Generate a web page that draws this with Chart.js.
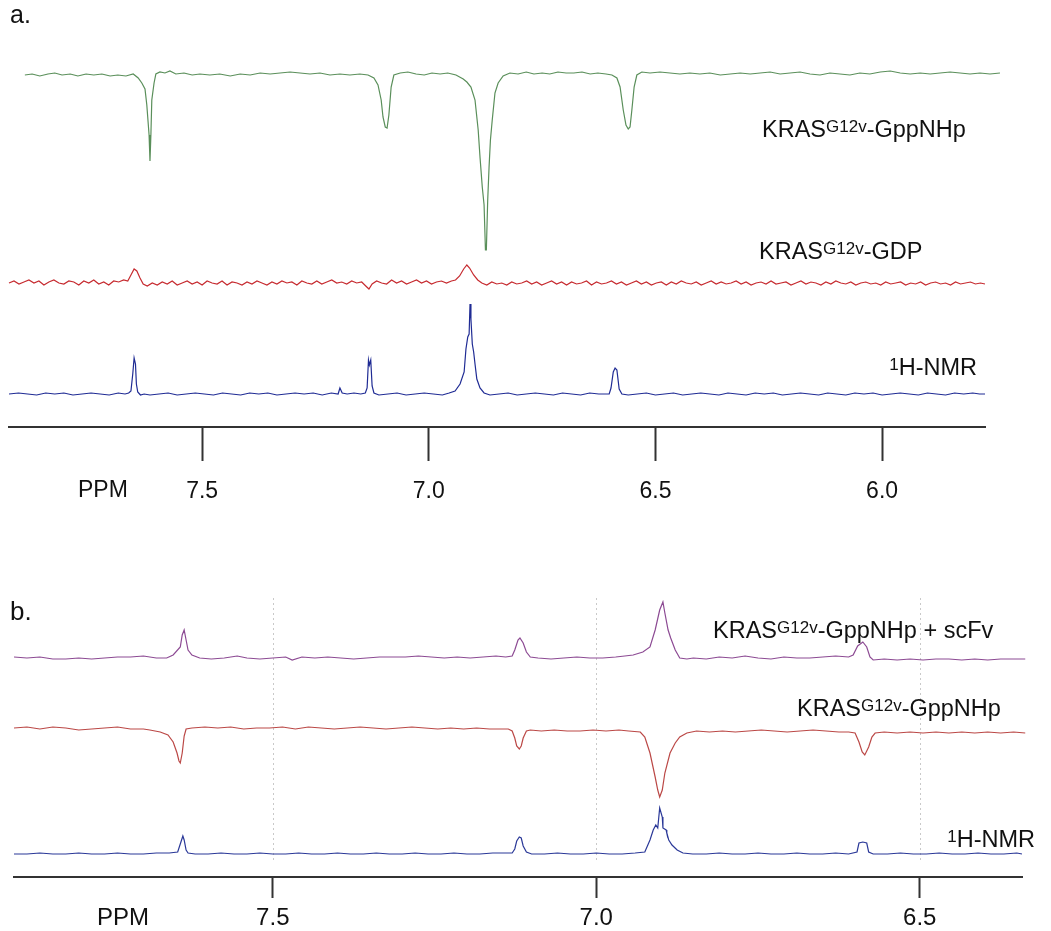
<!DOCTYPE html>
<html>
<head>
<meta charset="utf-8">
<script src="https://cdn.jsdelivr.net/npm/chart.js@4.4.1/dist/chart.umd.min.js"></script>
<style>
  body { margin: 0; background: #fff; }
  #wrap { position: relative; width: 1051px; height: 931px; }
  canvas { position: absolute; left: 0; }
</style>
</head>
<body>
<div id="wrap">
  <canvas id="chartA" width="1051" height="530" style="top:0"></canvas>
  <canvas id="chartB" width="1051" height="371" style="top:560px"></canvas>
</div>
<script>
// ---- panel a: [ppm, intensity] ----
const gppnhpA = [[7.891,0],[7.875,1],[7.858,-1],[7.840,1],[7.825,2],[7.809,0],[7.791,1],[7.774,-1],[7.756,1],[7.739,0],[7.721,1],[7.703,-1],[7.686,0],[7.668,-1],[7.652,1],[7.641,-3],[7.633,-8],[7.626,-14],[7.622,-30],[7.617,-60],[7.615,-86],[7.613,-60],[7.611,-25],[7.606,-8],[7.602,1],[7.593,3],[7.582,2],[7.571,4],[7.558,1],[7.540,2],[7.522,0],[7.505,1],[7.483,0],[7.461,1],[7.438,-1],[7.416,1],[7.394,0],[7.372,2],[7.350,1],[7.328,2],[7.306,3],[7.284,2],[7.262,1],[7.240,2],[7.218,0],[7.196,1],[7.174,0],[7.152,1],[7.134,0],[7.121,-3],[7.112,-10],[7.105,-25],[7.101,-42],[7.096,-52],[7.092,-53],[7.088,-40],[7.083,-12],[7.077,0],[7.063,2],[7.046,3],[7.028,1],[7.010,0],[6.993,2],[6.975,1],[6.958,2],[6.940,0],[6.924,-4],[6.916,-7],[6.907,-12],[6.898,-25],[6.891,-55],[6.887,-82],[6.882,-112],[6.878,-130],[6.875,-175],[6.873,-175],[6.870,-125],[6.867,-92],[6.864,-65],[6.860,-45],[6.854,-18],[6.847,-8],[6.836,-1],[6.821,2],[6.803,1],[6.785,3],[6.768,1],[6.750,2],[6.733,1],[6.715,3],[6.697,2],[6.680,2],[6.662,3],[6.644,1],[6.627,2],[6.609,1],[6.596,0],[6.585,-3],[6.578,-12],[6.571,-35],[6.565,-50],[6.560,-54],[6.556,-52],[6.552,-35],[6.547,-12],[6.541,0],[6.530,3],[6.512,2],[6.490,3],[6.468,2],[6.446,1],[6.424,2],[6.402,1],[6.380,2],[6.357,0],[6.335,1],[6.313,2],[6.291,1],[6.269,2],[6.247,3],[6.225,1],[6.203,2],[6.181,3],[6.159,1],[6.137,0],[6.115,2],[6.093,1],[6.071,0],[6.049,2],[6.027,1],[6.004,3],[5.982,4],[5.960,2],[5.938,1],[5.916,2],[5.894,1],[5.872,2],[5.850,3],[5.828,2],[5.806,1],[5.784,2],[5.762,1],[5.740,2]];

const gdpA = [[7.926,0],[7.915,2],[7.904,-1],[7.893,1],[7.882,3],[7.871,0],[7.860,2],[7.849,-2],[7.838,1],[7.827,3],[7.816,0],[7.805,-1],[7.794,2],[7.783,1],[7.772,-2],[7.761,2],[7.750,0],[7.739,3],[7.728,-1],[7.717,1],[7.706,-2],[7.695,2],[7.684,1],[7.673,3],[7.664,2],[7.657,8],[7.650,14],[7.644,12],[7.637,5],[7.630,-1],[7.621,-3],[7.610,0],[7.599,-2],[7.588,1],[7.577,-1],[7.566,2],[7.555,-2],[7.544,0],[7.533,2],[7.522,-1],[7.511,1],[7.500,-2],[7.489,2],[7.478,0],[7.467,-1],[7.456,2],[7.445,-2],[7.434,1],[7.423,0],[7.412,-2],[7.401,1],[7.390,-1],[7.379,2],[7.368,0],[7.357,-2],[7.346,1],[7.335,-1],[7.324,2],[7.313,0],[7.302,1],[7.291,-2],[7.280,2],[7.269,0],[7.258,-1],[7.247,2],[7.236,-1],[7.225,1],[7.214,3],[7.203,0],[7.192,1],[7.181,-1],[7.170,2],[7.159,0],[7.148,1],[7.139,-3],[7.132,-6],[7.125,-1],[7.115,2],[7.104,0],[7.093,-1],[7.082,3],[7.071,0],[7.060,2],[7.049,-1],[7.038,1],[7.027,3],[7.016,0],[7.005,2],[6.994,-1],[6.983,1],[6.972,2],[6.961,0],[6.950,2],[6.941,3],[6.932,7],[6.923,14],[6.916,18],[6.910,15],[6.901,8],[6.892,3],[6.883,0],[6.872,-2],[6.861,1],[6.850,-1],[6.839,0],[6.828,-2],[6.817,1],[6.806,-1],[6.795,0],[6.784,2],[6.773,-1],[6.762,1],[6.751,-2],[6.740,0],[6.729,2],[6.718,-1],[6.707,1],[6.696,-2],[6.685,1],[6.674,-1],[6.663,0],[6.652,2],[6.641,-2],[6.630,1],[6.619,-1],[6.608,0],[6.597,2],[6.586,-1],[6.575,1],[6.564,-2],[6.553,0],[6.542,2],[6.531,-1],[6.520,1],[6.509,-2],[6.498,0],[6.487,1],[6.476,-2],[6.465,1],[6.454,-1],[6.443,2],[6.432,0],[6.421,-1],[6.410,1],[6.399,-2],[6.388,0],[6.377,2],[6.366,-1],[6.355,1],[6.344,-1],[6.333,0],[6.322,2],[6.311,-1],[6.300,1],[6.289,-2],[6.278,0],[6.267,1],[6.256,-1],[6.245,2],[6.234,-1],[6.223,0],[6.212,1],[6.201,-2],[6.190,0],[6.179,2],[6.168,-1],[6.157,1],[6.146,0],[6.135,-2],[6.124,1],[6.113,-1],[6.102,2],[6.091,0],[6.080,-1],[6.069,1],[6.058,-2],[6.047,0],[6.036,1],[6.025,-1],[6.014,0],[6.003,-2],[5.992,1],[5.981,-1],[5.970,0],[5.959,1],[5.948,-2],[5.937,0],[5.926,-1],[5.915,1],[5.904,-2],[5.893,0],[5.882,1],[5.871,-1],[5.860,0],[5.849,-2],[5.838,1],[5.827,-1],[5.816,0],[5.805,1],[5.794,-1],[5.783,0],[5.773,-1]];

const nmrA = [[7.926,0],[7.905,1],[7.885,0],[7.865,-1],[7.845,1],[7.825,0],[7.805,1],[7.785,-1],[7.765,0],[7.745,1],[7.725,0],[7.705,-1],[7.685,1],[7.670,0],[7.662,1],[7.657,3],[7.653,20],[7.650,36],[7.647,30],[7.645,10],[7.642,2],[7.636,-1],[7.628,0],[7.615,-1],[7.595,0],[7.575,1],[7.555,-1],[7.535,0],[7.515,1],[7.495,0],[7.475,-1],[7.455,1],[7.435,0],[7.415,-1],[7.395,1],[7.375,0],[7.355,1],[7.335,-1],[7.315,0],[7.295,1],[7.275,0],[7.255,1],[7.235,-1],[7.215,1],[7.200,0],[7.196,6],[7.191,1],[7.180,0],[7.165,1],[7.150,0],[7.140,1],[7.136,6],[7.133,34],[7.131,29],[7.128,34],[7.125,8],[7.121,1],[7.110,-1],[7.090,0],[7.070,1],[7.050,-1],[7.030,0],[7.010,1],[6.990,0],[6.970,-1],[6.955,1],[6.942,3],[6.931,10],[6.922,22],[6.918,45],[6.914,57],[6.911,60],[6.909,90],[6.907,75],[6.904,50],[6.901,42],[6.898,30],[6.894,15],[6.887,6],[6.878,1],[6.865,-1],[6.845,0],[6.825,1],[6.805,-1],[6.785,0],[6.765,1],[6.745,0],[6.725,-1],[6.705,1],[6.685,0],[6.665,-1],[6.645,1],[6.625,0],[6.602,0],[6.598,6],[6.593,22],[6.589,26],[6.585,24],[6.580,5],[6.574,0],[6.560,-1],[6.540,0],[6.520,1],[6.500,-1],[6.480,0],[6.460,1],[6.440,-1],[6.420,0],[6.400,1],[6.380,0],[6.360,-1],[6.340,1],[6.320,0],[6.300,-1],[6.280,1],[6.260,0],[6.240,1],[6.220,-1],[6.200,0],[6.180,1],[6.160,0],[6.140,-1],[6.120,1],[6.100,0],[6.080,-1],[6.060,1],[6.040,0],[6.020,1],[6.000,-1],[5.980,0],[5.960,1],[5.940,0],[5.920,-1],[5.900,1],[5.880,0],[5.860,-1],[5.840,1],[5.820,0],[5.800,1],[5.785,0],[5.773,0]];

// ---- panel b ----
const scfvB = [[7.900,1],[7.880,0],[7.860,1],[7.840,-1],[7.820,-1],[7.800,0],[7.780,-1],[7.760,0],[7.740,1],[7.720,1],[7.700,2],[7.680,0],[7.664,0],[7.654,3],[7.643,11],[7.640,23],[7.637,28],[7.634,18],[7.631,8],[7.625,3],[7.613,0],[7.595,-1],[7.575,0],[7.555,2],[7.540,0],[7.520,-1],[7.500,0],[7.480,1],[7.470,-2],[7.455,1],[7.435,0],[7.415,1],[7.395,0],[7.375,-1],[7.355,0],[7.335,1],[7.315,1],[7.295,1],[7.275,2],[7.255,1],[7.235,0],[7.215,1],[7.195,0],[7.175,1],[7.155,2],[7.140,1],[7.130,2],[7.126,8],[7.121,18],[7.118,20],[7.113,15],[7.108,6],[7.102,1],[7.090,0],[7.070,-1],[7.050,0],[7.030,1],[7.010,0],[6.990,0],[6.970,1],[6.956,2],[6.943,3],[6.928,6],[6.917,11],[6.909,28],[6.902,48],[6.897,56],[6.894,45],[6.889,28],[6.885,20],[6.878,8],[6.871,0],[6.860,-1],[6.850,0],[6.830,-1],[6.810,1],[6.790,0],[6.770,2],[6.750,0],[6.730,-1],[6.710,1],[6.690,0],[6.670,0],[6.650,1],[6.630,2],[6.610,1],[6.603,3],[6.596,12],[6.588,16],[6.582,11],[6.577,1],[6.572,-2],[6.555,-1],[6.535,-2],[6.515,-1],[6.495,-2],[6.475,-1],[6.455,-1],[6.435,-2],[6.415,-1],[6.395,-2],[6.375,-1],[6.355,-1],[6.337,-1]];

const gppnhpB = [[7.900,0],[7.880,1],[7.860,-1],[7.840,1],[7.820,0],[7.800,-2],[7.780,-1],[7.760,0],[7.740,1],[7.720,-1],[7.700,-1],[7.690,-2],[7.674,-4],[7.662,-7],[7.654,-14],[7.648,-25],[7.645,-33],[7.643,-35],[7.640,-25],[7.637,-8],[7.634,-1],[7.625,0],[7.605,1],[7.585,0],[7.565,1],[7.545,-1],[7.525,0],[7.505,0],[7.485,1],[7.465,-1],[7.445,1],[7.425,0],[7.405,-1],[7.385,0],[7.365,1],[7.345,0],[7.325,-1],[7.305,0],[7.285,1],[7.265,0],[7.245,-1],[7.225,0],[7.205,-1],[7.185,0],[7.165,-1],[7.145,-1],[7.136,-1],[7.130,-3],[7.126,-10],[7.123,-18],[7.119,-21],[7.116,-18],[7.113,-10],[7.108,-3],[7.102,-2],[7.085,-3],[7.065,-2],[7.045,-3],[7.025,-3],[7.005,-2],[6.985,-3],[6.965,-2],[6.950,-3],[6.932,-4],[6.925,-9],[6.917,-25],[6.909,-49],[6.905,-62],[6.902,-69],[6.898,-62],[6.894,-45],[6.886,-25],[6.878,-15],[6.871,-9],[6.860,-5],[6.845,-3],[6.825,-4],[6.805,-3],[6.785,-4],[6.765,-3],[6.745,-2],[6.725,-3],[6.705,-4],[6.685,-3],[6.665,-2],[6.645,-3],[6.625,-4],[6.610,-4],[6.600,-5],[6.594,-14],[6.589,-24],[6.585,-27],[6.579,-19],[6.574,-9],[6.569,-5],[6.555,-4],[6.535,-5],[6.515,-4],[6.495,-5],[6.475,-4],[6.455,-5],[6.435,-4],[6.415,-5],[6.395,-4],[6.375,-5],[6.355,-4],[6.337,-5]];

const nmrB = [[7.900,0],[7.880,0],[7.860,1],[7.840,0],[7.820,0],[7.800,1],[7.780,0],[7.760,0],[7.740,1],[7.720,0],[7.700,0],[7.680,1],[7.660,1],[7.647,2],[7.642,12],[7.639,18],[7.637,14],[7.634,4],[7.631,1],[7.620,0],[7.600,0],[7.580,1],[7.560,0],[7.540,0],[7.520,1],[7.500,0],[7.480,0],[7.460,1],[7.440,0],[7.420,0],[7.400,1],[7.380,0],[7.360,0],[7.340,1],[7.320,0],[7.300,0],[7.280,1],[7.260,0],[7.240,0],[7.220,1],[7.200,0],[7.180,0],[7.160,1],[7.140,1],[7.130,1],[7.126,5],[7.123,13],[7.119,17],[7.116,16],[7.113,8],[7.108,2],[7.100,0],[7.080,0],[7.060,1],[7.040,0],[7.020,0],[7.000,1],[6.980,0],[6.960,0],[6.940,1],[6.925,2],[6.917,14],[6.912,24],[6.908,29],[6.905,26],[6.902,46],[6.898,37],[6.897,26],[6.892,24],[6.891,21],[6.888,14],[6.883,9],[6.875,4],[6.866,1],[6.851,0],[6.830,0],[6.810,1],[6.790,0],[6.770,0],[6.750,1],[6.730,0],[6.710,0],[6.690,1],[6.670,0],[6.650,0],[6.630,1],[6.610,0],[6.597,2],[6.594,11],[6.588,12],[6.582,11],[6.579,2],[6.572,0],[6.550,0],[6.530,1],[6.510,0],[6.490,0],[6.470,1],[6.450,0],[6.430,0],[6.410,1],[6.390,0],[6.370,0],[6.350,1],[6.342,0]];

const ticksA = [7.5, 7.0, 6.5, 6.0];
const ticksB = [7.5, 7.0, 6.5];
const gridB = [7.5, 7.0, 6.5];

const FONT = 'Liberation Sans, Arial, Helvetica, sans-serif';

// text with superscript pieces: parts = [[text, isSup], ...]
function drawRich(ctx, parts, x, y, size, supSize, align) {
  let w = 0;
  parts.forEach(([t, sup]) => {
    ctx.font = (sup ? supSize : size) + 'px ' + FONT;
    w += ctx.measureText(t).width;
  });
  let cx = align === 'right' ? x - w : x;
  parts.forEach(([t, sup]) => {
    ctx.font = (sup ? supSize : size) + 'px ' + FONT;
    ctx.fillText(t, cx, sup ? y - 5 : y);
    cx += ctx.measureText(t).width;
  });
}

function textPlugin(labels, grid) {
  return {
    id: 'texts',
    beforeDatasetsDraw(chart) {
      if (!grid) return;
      const ctx = chart.ctx, xs = chart.scales.x;
      ctx.save();
      ctx.strokeStyle = '#c9c9c9';
      ctx.lineWidth = 1;
      ctx.setLineDash([2, 3]);
      grid.vals.forEach(v => {
        const px = Math.round(xs.getPixelForValue(v)) + 0.5;
        ctx.beginPath();
        ctx.moveTo(px, grid.top);
        ctx.lineTo(px, grid.bottom);
        ctx.stroke();
      });
      ctx.restore();
    },
    afterDraw(chart) {
      const ctx = chart.ctx;
      ctx.save();
      ctx.fillStyle = '#111';
      ctx.textBaseline = 'alphabetic';
      ctx.textAlign = 'left';
      labels.forEach(l => drawRich(ctx, l.parts, l.x, l.y, l.size, l.sup || 17, l.align));
      ctx.restore();
    }
  };
}

function spectrumChart(id, cfg) {
  return new Chart(document.getElementById(id), {
    type: 'line',
    data: {
      datasets: cfg.traces.map(t => ({
        data: t.points.map(p => ({ x: p[0], y: p[1] + t.offset })),
        borderColor: t.color,
        borderWidth: 1.2,
        pointRadius: 0,
        tension: 0,
        fill: false,
        clip: false
      }))
    },
    options: {
      responsive: false,
      animation: false,
      devicePixelRatio: 1,
      layout: { padding: { left: cfg.left, right: cfg.right, top: 0, bottom: 0 } },
      plugins: { legend: { display: false }, tooltip: { enabled: false } },
      scales: {
        x: {
          type: 'linear',
          reverse: true,
          min: cfg.min,
          max: cfg.max,
          afterBuildTicks: s => { s.ticks = cfg.ticks.map(v => ({ value: v })); },
          afterFit: s => { s.height = cfg.axisHeight; },
          grid: { drawOnChartArea: false, drawTicks: true, tickLength: cfg.tickLength, tickWidth: 2, tickColor: '#333' },
          border: { display: true, color: '#333', width: 2 },
          ticks: {
            padding: cfg.tickPad,
            color: '#111',
            font: { family: FONT, size: cfg.fontSize },
            maxRotation: 0,
            callback: v => Number(v).toFixed(1)
          }
        },
        y: { display: false, min: 0, max: cfg.yMax }
      }
    },
    plugins: [textPlugin(cfg.labels, cfg.grid)]
  });
}

// panel a: chart area bottom (axis line) at y=427
spectrumChart('chartA', {
  left: 9, right: 66, min: 5.773, max: 7.926, yMax: 427,
  axisHeight: 103, tickLength: 34, tickPad: 17, fontSize: 23,
  ticks: ticksA,
  traces: [
    { points: gppnhpA, offset: 352, color: '#5a8f5a' },
    { points: gdpA, offset: 144, color: '#c62a2f' },
    { points: nmrA, offset: 33, color: '#1f2b94' }
  ],
  labels: [
    { parts: [['a.']], x: 10, y: 23, size: 25 },
    { parts: [['KRAS'], ['G12v', 1], ['-GppNHp']], x: 762, y: 137, size: 23.5 },
    { parts: [['KRAS'], ['G12v', 1], ['-GDP']], x: 759, y: 259, size: 23.5 },
    { parts: [['1', 1], ['H-NMR']], x: 977, y: 375, size: 23.5, align: 'right' },
    { parts: [['PPM']], x: 78, y: 497, size: 23 }
  ]
});

// panel b: canvas starts at page y=560, axis line at page y=877
spectrumChart('chartB', {
  left: 14, right: 29, min: 6.342, max: 7.900, yMax: 317,
  axisHeight: 54, tickLength: 21, tickPad: 6, fontSize: 24,
  ticks: ticksB,
  grid: { vals: gridB, top: 38, bottom: 300 },
  traces: [
    { points: scfvB, offset: 219, color: '#8c4a93' },
    { points: gppnhpB, offset: 149, color: '#bb4846' },
    { points: nmrB, offset: 23, color: '#2a3898' }
  ],
  labels: [
    { parts: [['b.']], x: 10, y: 60, size: 26 },
    { parts: [['KRAS'], ['G12v', 1], ['-GppNHp + scFv']], x: 713, y: 78, size: 23.5 },
    { parts: [['KRAS'], ['G12v', 1], ['-GppNHp']], x: 797, y: 156, size: 23.5 },
    { parts: [['1', 1], ['H-NMR']], x: 1035, y: 287, size: 23.5, align: 'right' },
    { parts: [['PPM']], x: 97, y: 365, size: 24 }
  ]
});
</script>
</body>
</html>
